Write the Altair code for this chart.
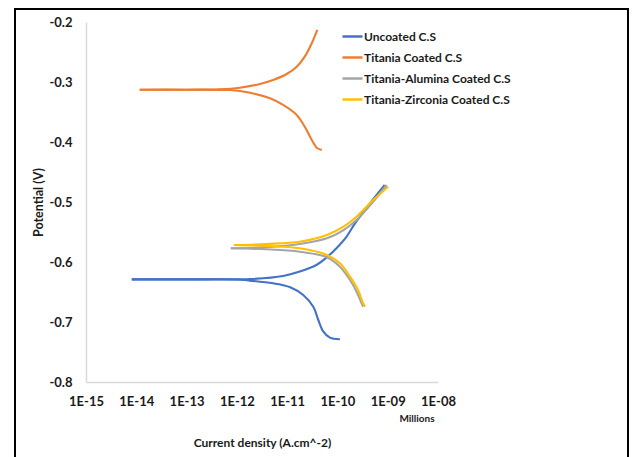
import altair as alt
import pandas as pd

series_names = ["Uncoated C.S", "Titania Coated C.S", "Titania-Alumina Coated C.S", "Titania-Zirconia Coated C.S"]
series_colors = ["#4472C4", "#ED7D31", "#A5A5A5", "#FFC000"]

# current density (A.cm^-2) and potential (V), per branch
uncoated_anodic_i = [8.13e-15, 1.0e-13, 1.0e-12, 1.82e-12, 8.32e-12, 1.78e-11, 3.80e-11, 6.17e-11, 9.55e-11, 1.51e-10, 2.24e-10, 4.47e-10, 8.71e-10]
uncoated_anodic_E = [-0.629, -0.629, -0.6289, -0.6286, -0.6233, -0.616, -0.605, -0.592, -0.577, -0.558, -0.5355, -0.502, -0.4717]
uncoated_cathodic_i = [8.13e-15, 1.0e-13, 1.0e-12, 1.82e-12, 5.25e-12, 1.15e-11, 2.09e-11, 3.31e-11, 4.17e-11, 5.25e-11, 7.08e-11, 1.12e-10]
uncoated_cathodic_E = [-0.629, -0.629, -0.6292, -0.631, -0.6355, -0.642, -0.655, -0.6745, -0.6967, -0.716, -0.726, -0.7288]

titania_anodic_i = [1.17e-14, 1.0e-13, 4.57e-13, 1.15e-12, 2.88e-12, 5.25e-12, 9.77e-12, 1.55e-11, 2.24e-11, 3.09e-11, 3.98e-11]
titania_anodic_E = [-0.3128, -0.3128, -0.3122, -0.3095, -0.3033, -0.2967, -0.2867, -0.2745, -0.2578, -0.2355, -0.2133]
titania_cathodic_i = [1.17e-14, 1.0e-13, 4.57e-13, 7.24e-13, 1.82e-12, 4.57e-12, 8.32e-12, 1.55e-11, 2.24e-11, 3.09e-11, 3.98e-11, 4.90e-11]
titania_cathodic_E = [-0.3128, -0.3128, -0.3131, -0.3133, -0.3178, -0.3272, -0.3383, -0.355, -0.3745, -0.3967, -0.4105, -0.4133]

alumina_anodic_i = [7.59e-13, 3.89e-12, 1.78e-11, 6.17e-11, 1.32e-10, 2.40e-10, 5.13e-10, 9.55e-10]
alumina_anodic_E = [-0.5772, -0.5755, -0.570, -0.5605, -0.5467, -0.530, -0.4995, -0.4717]
alumina_cathodic_i = [7.59e-13, 3.89e-12, 1.78e-11, 6.17e-11, 1.12e-10, 1.78e-10, 2.40e-10, 3.02e-10, 3.24e-10]
alumina_cathodic_E = [-0.5772, -0.5788, -0.5828, -0.592, -0.6078, -0.630, -0.6495, -0.6688, -0.6745]

zirconia_anodic_i = [8.71e-13, 3.89e-12, 1.78e-11, 6.17e-11, 1.32e-10, 2.40e-10, 5.13e-10, 1.02e-9]
zirconia_anodic_E = [-0.5717, -0.570, -0.5662, -0.555, -0.5412, -0.5245, -0.4967, -0.4745]
zirconia_cathodic_i = [8.71e-13, 3.89e-12, 1.78e-11, 6.17e-11, 1.12e-10, 1.78e-10, 2.57e-10, 3.24e-10, 3.55e-10]
zirconia_cathodic_E = [-0.5717, -0.5733, -0.5772, -0.5883, -0.6022, -0.6245, -0.6467, -0.6688, -0.6745]

x_ticks = [1e-15, 1e-14, 1e-13, 1e-12, 1e-11, 1e-10, 1e-9, 1e-8]
y_ticks = [-0.8, -0.7, -0.6, -0.5, -0.4, -0.3, -0.2]

# horizontal extent of the outer chart frame, expressed on the current-density axis
frame_x = [3.7e-17, 6.27e-5]

branches = [
    (series_names[0], "a", uncoated_anodic_i, uncoated_anodic_E),
    (series_names[0], "c", uncoated_cathodic_i, uncoated_cathodic_E),
    (series_names[1], "a", titania_anodic_i, titania_anodic_E),
    (series_names[1], "c", titania_cathodic_i, titania_cathodic_E),
    (series_names[2], "a", alumina_anodic_i, alumina_anodic_E),
    (series_names[2], "c", alumina_cathodic_i, alumina_cathodic_E),
    (series_names[3], "a", zirconia_anodic_i, zirconia_anodic_E),
    (series_names[3], "c", zirconia_cathodic_i, zirconia_cathodic_E),
]
rows = []
for s, b, ii, ee in branches:
    for k, (cur, pot) in enumerate(zip(ii, ee)):
        rows.append({"series": s, "branch": s + b, "idx": k, "i": cur, "E": pot})
df = pd.DataFrame(rows)

FONT = "Lato"

x_enc = alt.X("i:Q",
              scale=alt.Scale(type="log", domain=[1e-15, 1e-8]),
              axis=alt.Axis(values=x_ticks, grid=False, ticks=False,
                            domainColor="#D9D9D9", domainWidth=1.5,
                            labelExpr="'1E-' + (abs(round(log(datum.value)/LN10)) < 10 ? '0' : '') + abs(round(log(datum.value)/LN10))",
                            labelFont=FONT, labelFontSize=13, labelFontWeight="bold", labelColor="#1a1a1a",
                            labelPadding=13, labelFlush=False,
                            title="Current density (A.cm^-2)", titleFont=FONT, titleFontSize=12,
                            titleFontWeight="bold", titleColor="#1a1a1a",
                            titleX=176, titleY=60, titleBaseline="middle", titleAnchor="middle"))

lines = alt.Chart(df).mark_line(strokeWidth=2.1, interpolate="catmull-rom").encode(
    x=x_enc,
    y=alt.Y("E:Q",
            scale=alt.Scale(domain=[-0.8, -0.2], nice=False, zero=False),
            axis=alt.Axis(values=y_ticks, grid=False, ticks=False,
                          domainColor="#D9D9D9", domainWidth=1.5,
                          labelExpr="'-' + format(-datum.value, '.1f')",
                          labelFont=FONT, labelFontSize=13, labelFontWeight="bold", labelColor="#1a1a1a",
                          labelPadding=14, labelFlush=False,
                          title="Potential (V)", titleFont=FONT, titleFontSize=12.5,
                          titleFontWeight="bold", titleColor="#1a1a1a",
                          titleX=-48, titleY=180, titleAngle=270, titleBaseline="middle", titleAlign="center")),
    color=alt.Color("series:N",
                    scale=alt.Scale(domain=series_names, range=series_colors),
                    legend=alt.Legend(orient="none", legendX=255, legendY=3, title=None,
                                      symbolType="stroke", symbolSize=400, symbolStrokeWidth=2.5,
                                      labelFont=FONT, labelFontSize=12, labelFontWeight="bold",
                                      labelColor="#1a1a1a", labelOffset=0, rowPadding=3)),
    detail="branch:N",
    order="idx:Q",
)

millions = alt.Chart(alt.Data(values=[{"t": "Millions"}])).mark_text(
    font=FONT, fontSize=10, fontWeight="bold", color="#1a1a1a", align="center", baseline="middle"
).encode(x=alt.value(331), y=alt.value(397), text="t:N")

frame_df = pd.DataFrame({"i": [frame_x[0]], "i2": [frame_x[1]]})
top_edge = alt.Chart(frame_df).mark_rule(color="#000000", strokeWidth=2).encode(
    x=alt.X("i:Q"), x2="i2:Q", y=alt.value(-13))

one = alt.Data(values=[{"k": 1}])
left_edge = alt.Chart(one).mark_rule(color="#000000", strokeWidth=2).encode(
    x=alt.value(-71), y=alt.value(-14), y2=alt.value(440))
right_edge = alt.Chart(one).mark_rule(color="#000000", strokeWidth=2).encode(
    x=alt.value(542), y=alt.value(-14), y2=alt.value(440))

chart = alt.layer(lines, top_edge, left_edge, right_edge, millions).properties(
    width=352, height=360,
    autosize=alt.AutoSizeParams(type="none"),
    padding={"left": 78, "top": 14, "right": 192, "bottom": 75},
    background="white",
).configure_view(strokeWidth=0)

chart.save("out.html", embed_options={"renderer": "svg", "actions": False})
